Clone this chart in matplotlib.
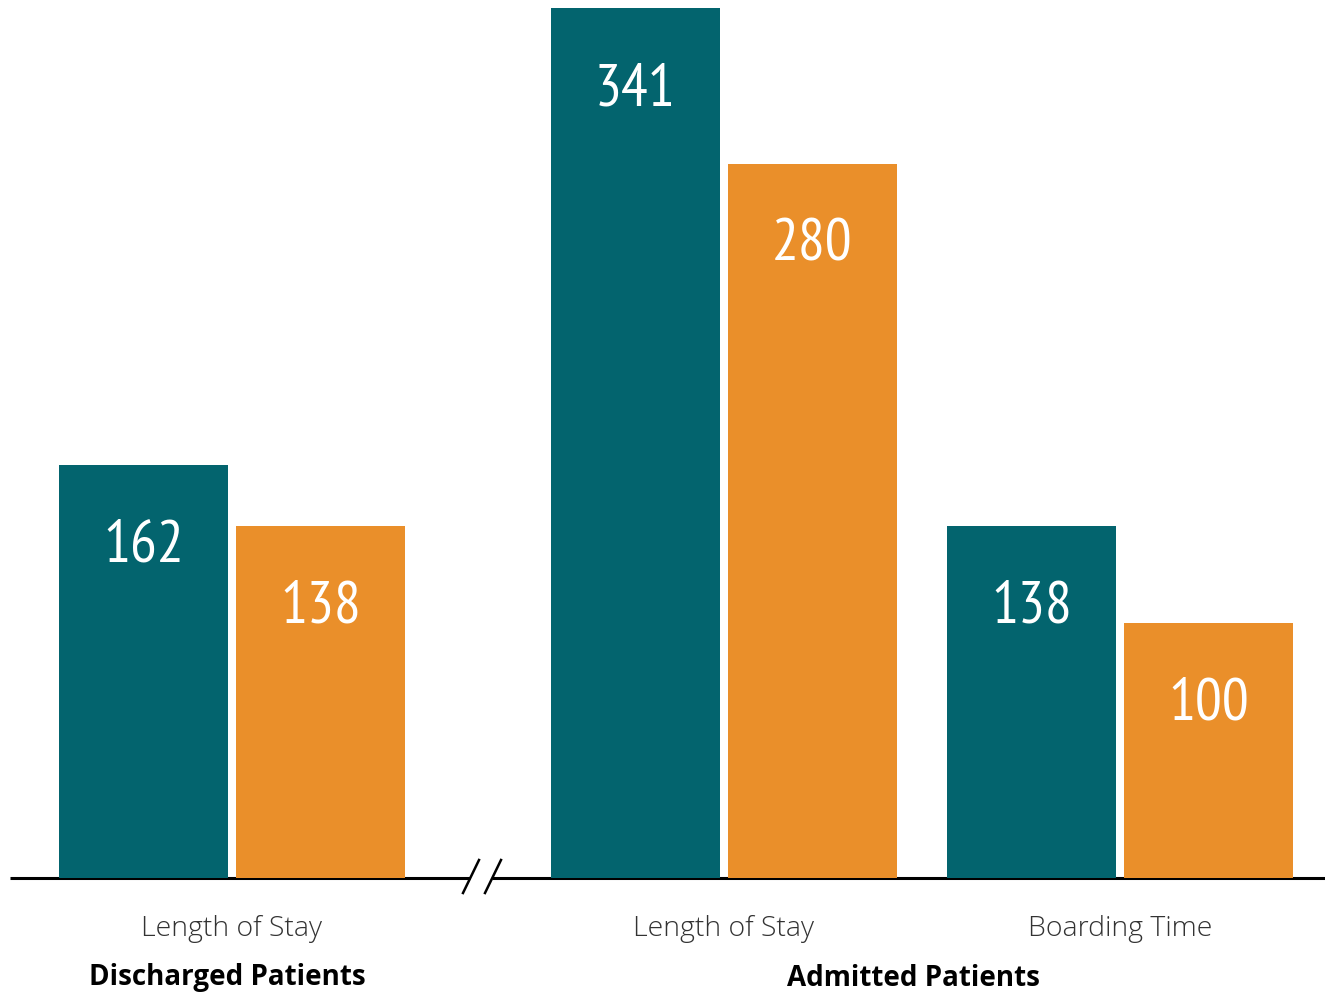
import matplotlib.pyplot as plt

# data
groups = ['Discharged Patients', 'Admitted Patients']
categories = ['Length of Stay', 'Length of Stay', 'Boarding Time']
before = [162, 341, 138]
after = [138, 280, 100]

teal = '#03646E'
orange = '#EA8F2A'

# layout (x in figure-pixel units)
centers = [232, 724, 1120]
bar_w = 169
gap = 8
group_label_x = [227, 913]

fig = plt.figure(figsize=(13.25, 9.92), dpi=100)
ax = fig.add_axes([0, 0, 1, 1])
ax.set_xlim(0, 1325)
px = 341 / 870.0
ax.set_ylim(-114 * px, 341 + 8 * px)
ax.axis('off')

num_font = 'PT Sans Narrow'

for c, b, a in zip(centers, before, after):
    xb = c - gap / 2 - bar_w / 2
    xa = c + gap / 2 + bar_w / 2
    ax.bar(xb, b, width=bar_w, color=teal, zorder=3)
    ax.bar(xa, a, width=bar_w, color=orange, zorder=3)
    for x, v in [(xb, b), (xa, a)]:
        ax.annotate(str(v), (x, v), xytext=(0, -76 * 0.72), textcoords='offset points',
                    ha='center', va='center_baseline', color='white', fontsize=43,
                    family=num_font, zorder=4)

for c, cat in zip(centers, categories):
    ax.text(c, -51 * px, cat, ha='center', va='center', fontsize=20.5,
            color='#333333', family='Open Sans', fontweight=300)

for x, g in zip(group_label_x, groups):
    ax.text(x, -100 * px, g, ha='center', va='center', fontsize=20,
            color='black', family='Open Sans', fontweight='bold')

# baseline with break
ax.plot([10, 470], [0, 0], color='black', lw=2.2, zorder=2, solid_capstyle='butt')
ax.plot([492, 1325], [0, 0], color='black', lw=2.2, zorder=2, solid_capstyle='butt')
for x0 in [463, 485]:
    ax.plot([x0, x0 + 16], [-15 * px, 18 * px], color='black', lw=1.8, zorder=2)

fig.savefig('out.png', dpi=100)
